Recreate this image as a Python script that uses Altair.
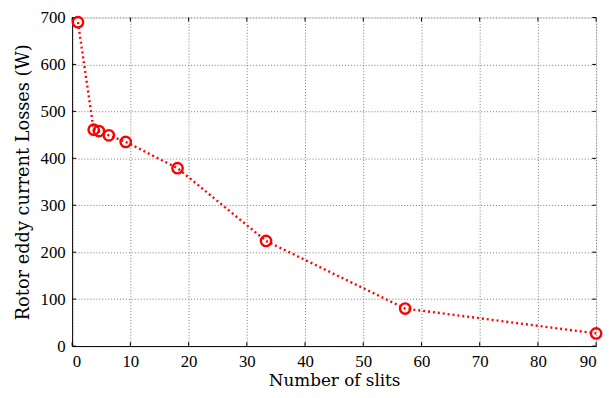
import altair as alt
import pandas as pd

slits = [1, 3.7, 4.6, 6.3, 9.2, 18.1, 33.3, 57.2, 90]
losses = [690, 461, 458, 449, 435, 379, 224, 80, 27]
x_ticks = [0, 10, 20, 30, 40, 50, 60, 70, 80, 90]
y_ticks = [0, 100, 200, 300, 400, 500, 600, 700]

df = pd.DataFrame({"slits": slits, "loss": losses})
xt = pd.DataFrame({"t": x_ticks})
yt = pd.DataFrame({"t": y_ticks})

W, H = 531, 333
FONT = "Liberation Serif"
TFONT = "DejaVu Serif"

xs = alt.Scale(domain=[0, 90], nice=False)
ys = alt.Scale(domain=[0, 700], nice=False)

xax = alt.Axis(values=x_ticks, title="Number of slits", grid=True, gridColor="#777",
               gridDash=[1, 2], gridWidth=1, tickSize=0, labelPadding=8,
               labelFont=FONT, labelFontSize=17, labelColor="#000",
               titleFont=TFONT, titleFontSize=17, titleFontWeight="normal",
               titleColor="#000", titlePadding=3, domainColor="#000")
yax = alt.Axis(values=y_ticks, title="Rotor eddy current Losses (W)", grid=True,
               gridColor="#777", gridDash=[1, 2], gridWidth=1, tickSize=0,
               labelPadding=7, labelFont=FONT, labelFontSize=17, labelColor="#000",
               titleFont=TFONT, titleFontSize=18, titleFontWeight="normal",
               titleColor="#000", titlePadding=8, domainColor="#000")

base = alt.Chart(df)
line = base.mark_line(color="red", strokeWidth=2.4, strokeDash=[2, 3]).encode(
    x=alt.X("slits:Q", scale=xs, axis=xax),
    y=alt.Y("loss:Q", scale=ys, axis=yax),
)
pts = base.mark_point(shape="circle", filled=False, color="red", size=110,
                      strokeWidth=2.4, opacity=1).encode(
    x=alt.X("slits:Q", scale=xs),
    y=alt.Y("loss:Q", scale=ys),
)

tb = alt.Chart(xt).mark_rule(color="#000", strokeWidth=1).encode(
    x=alt.X("t:Q", scale=xs), y=alt.value(H), y2=alt.value(H - 4))
tt = alt.Chart(xt).mark_rule(color="#000", strokeWidth=1).encode(
    x=alt.X("t:Q", scale=xs), y=alt.value(0), y2=alt.value(4))
tl = alt.Chart(yt).mark_rule(color="#000", strokeWidth=1).encode(
    y=alt.Y("t:Q", scale=ys), x=alt.value(0), x2=alt.value(4))
tr = alt.Chart(yt).mark_rule(color="#000", strokeWidth=1).encode(
    y=alt.Y("t:Q", scale=ys), x=alt.value(W), x2=alt.value(W - 4))

chart = alt.layer(tb, tt, tl, tr, line, pts).properties(
    width=W, height=H,
    autosize=alt.AutoSizeParams(type="none"),
    padding={"left": 65, "top": 7, "right": 9, "bottom": 50},
).configure_view(stroke="#000", strokeWidth=1.5).configure(background="white")

chart.save("out.html", embed_options={"renderer": "svg", "actions": False})
